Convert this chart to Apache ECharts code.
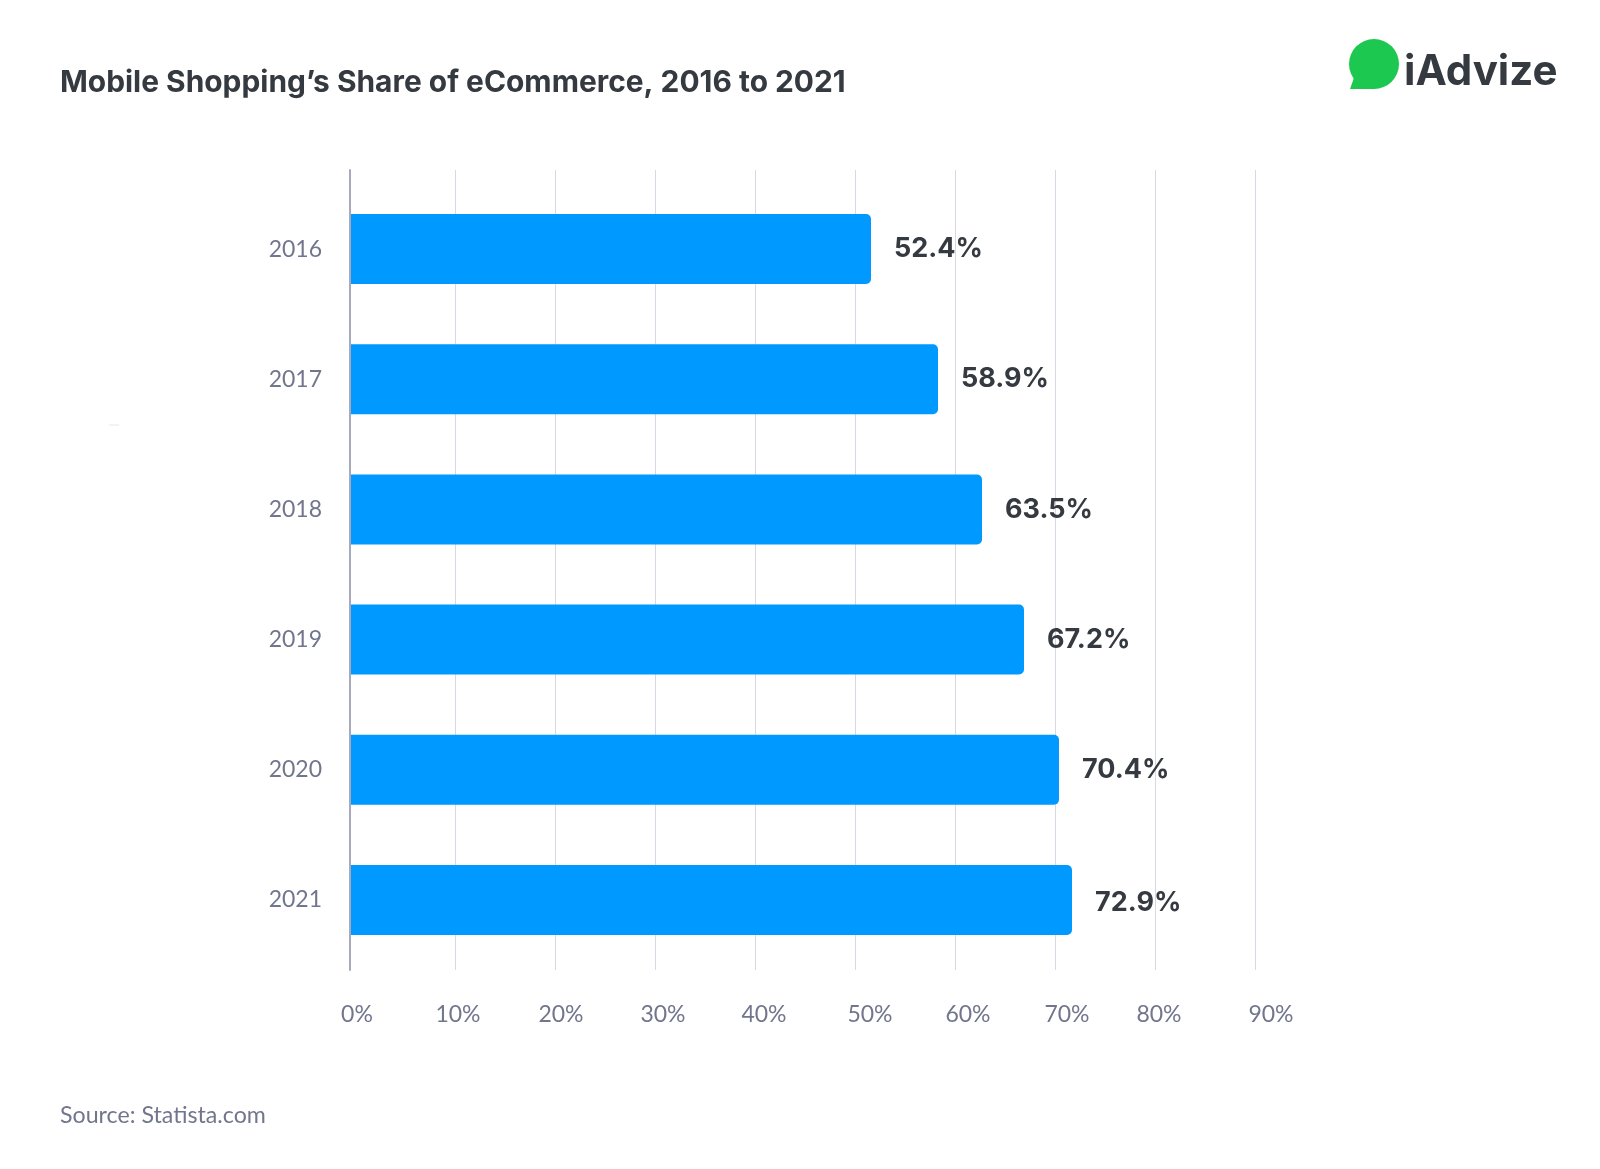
<!DOCTYPE html>
<html>
<head>
<meta charset="utf-8">
<title>Mobile Shopping's Share of eCommerce</title>
<script src="https://cdn.jsdelivr.net/npm/echarts@6/dist/echarts.min.js"></script>
<style>
  html, body { margin: 0; background: #fff; }
  #chart { width: 1600px; height: 1169px; }
</style>
</head>
<body>
<div id="chart"></div>
<script>
// ------------------------------
// DATA
// ------------------------------
const years = ["2016", "2017", "2018", "2019", "2020", "2021"];
// bar lengths as drawn in the picture, they run slightly off the printed figures
const barLengths = [52.0, 58.7, 63.1, 67.3, 70.8, 72.1];
// figures printed next to the bars
const printedShares = ["52.4%", "58.9%", "63.5%", "67.2%", "70.4%", "72.9%"];
const gridTicks = [10, 20, 30, 40, 50, 60, 70, 80, 90];
const tickLabels = [0, 10, 20, 30, 40, 50, 60, 70, 80, 90];

// ------------------------------
// STYLE
// ------------------------------
const bodyFont = "Lato";
const headFont = "Inter";
const dark = "#343a40";
const muted = "#71768d";
// the axis texts sit a little right of their gridlines, by a different amount each
const labelNudge = { 0: 0.2, 10: 0.3, 20: 0.6, 30: 0.8, 40: 0.9, 50: 1.5, 60: 1.3, 70: 1.2, 80: 0.4, 90: 1.6 };

// ------------------------------
// CHART
// ------------------------------
const chart = echarts.init(document.getElementById("chart"), null, { renderer: "canvas" });

chart.setOption({
  backgroundColor: "#fff",
  animation: false,
  title: [
    {
      text: "Mobile Shopping’s Share of eCommerce, 2016 to 2021",
      left: 60, top: 68, padding: 0,
      textStyle: { fontFamily: headFont, fontWeight: 700, fontSize: 29.9, color: dark }
    },
    {
      text: "Source: Statista.com",
      left: 60, top: 1104, padding: 0,
      textStyle: { fontFamily: bodyFont, fontWeight: 400, fontSize: 23.2, color: muted }
    }
  ],
  grid: [
    // gridlines and the vertical axis line
    { left: 350, top: 170, width: 1005.3, height: 800 },
    // bars
    { left: 351, top: 184, width: 1000, height: 781 }
  ],
  xAxis: [
    {
      type: "value", gridIndex: 0, min: -0.5, max: 100.03,
      axisLine: { show: false },
      axisTick: { show: false, customValues: gridTicks },
      splitLine: { show: true, lineStyle: { color: "#d8d8e3", width: 1 } },
      axisLabel: {
        customValues: tickLabels.map(t => t + labelNudge[t]),
        formatter: v => Math.floor(v / 10) * 10 + "%",
        margin: 33,
        hideOverlap: false,
        fontFamily: bodyFont, fontSize: 23, color: muted
      }
    },
    { type: "value", gridIndex: 1, min: 0, max: 100, show: false }
  ],
  yAxis: [
    {
      type: "value", gridIndex: 0, min: 0, max: 1,
      axisLine: { show: true, onZero: false, lineStyle: { color: "#a7aabd", width: 2 } },
      axisTick: { show: false },
      axisLabel: { show: false },
      splitLine: { show: false }
    },
    {
      type: "category", gridIndex: 1, data: years, inverse: true,
      axisLine: { show: false },
      axisTick: { show: false },
      axisLabel: { margin: 29, fontFamily: bodyFont, fontSize: 23, color: muted }
    }
  ],
  series: [
    {
      type: "bar",
      xAxisIndex: 1,
      yAxisIndex: 1,
      // last figure sits a bit lower than the others
      data: barLengths.map((v, i) => (i === 5 ? { value: v, label: { offset: [0, 3] } } : v)),
      barWidth: 70,
      z: 3,
      itemStyle: { color: "#0099ff", borderRadius: [0, 5, 5, 0] },
      label: {
        show: true,
        position: "right",
        distance: 23,
        formatter: p => printedShares[p.dataIndex],
        fontFamily: headFont, fontWeight: 700, fontSize: 27, color: dark
      }
    }
  ],
  graphic: [
    // logo
    { type: "circle", shape: { cx: 1374, cy: 64, r: 25 }, style: { fill: "#1cc84f" } },
    { type: "polygon", shape: { points: [[1350, 89], [1375, 89], [1356, 72]] }, style: { fill: "#1cc84f" } },
    {
      type: "text", left: 1404, top: 51,
      style: { text: "iAdvize", fontFamily: headFont, fontWeight: 700, fontSize: 42, fill: dark }
    },
    // faint mark left of the chart
    { type: "rect", shape: { x: 109, y: 424, width: 10, height: 2 }, style: { fill: "#f3f3f3" } }
  ]
});
</script>
</body>
</html>
